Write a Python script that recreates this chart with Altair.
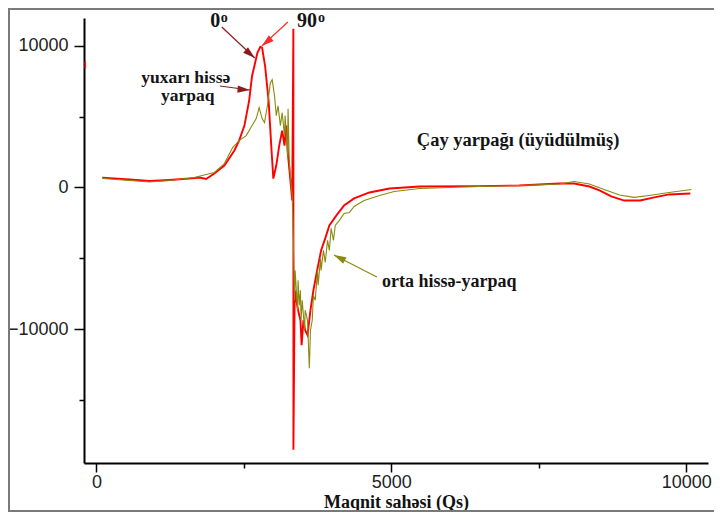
import altair as alt
import pandas as pd

# ---- data ----
red_x = [100, 560, 900, 1240, 1580, 1750, 1860, 2000, 2170, 2340,
         2420, 2510, 2590, 2640, 2680, 2730, 2780, 2810, 2860, 2920,
         2970, 3000, 3050, 3100, 3150, 3190, 3220, 3250, 3290, 3320,
         3340, 3341, 3362, 3390, 3420, 3460, 3480, 3510, 3540, 3580,
         3630, 3680, 3750, 3810, 3880, 3950, 4070, 4200, 4370, 4630,
         4970, 5480, 6490, 7170, 7510, 7850, 8100, 8360, 8530, 8730,
         8950, 9220, 9460, 9710, 10070]
red_y = [700, 560, 460, 530, 630, 700, 600, 990, 1550, 2610,
         3310, 4370, 6130, 7890, 8590, 9510, 9930, 9860, 8590, 6130,
         2610, 630, 1550, 2960, 4010, 2960, 4370, 2250, 490, -920,
         11200, -18500, -7250, -7960, -8660, -9370, -11130, -9370, -10070, -10420,
         -8660, -7250, -5700, -4440, -3590, -2680, -1970, -1270, -770, -350,
         -70, 70, 100, 140, 210, 280, 280, 70, -210, -630,
         -920, -920, -700, -490, -420]

olive_x = [100, 560, 900, 1240, 1660, 1860, 2000, 2170, 2310, 2420,
           2540, 2640, 2710, 2760, 2810, 2850, 2900, 2950, 2980, 3020,
           3050, 3080, 3120, 3150, 3190, 3200, 3240, 3250, 3270, 3290,
           3310, 3320, 3340, 3360, 3370, 3410, 3420, 3440, 3460, 3470,
           3490, 3530, 3540, 3580, 3610, 3630, 3660, 3680, 3710, 3750,
           3760, 3800, 3810, 3850, 3880, 3920, 3950, 3980, 4020, 4050,
           4120, 4200, 4290, 4370, 4540, 4800, 5050, 5480, 6490, 7170,
           7850, 8100, 8360, 8610, 8870, 9120, 9370, 9710, 10090]
olive_y = [630, 490, 390, 490, 700, 920, 1060, 1690, 2820, 3310,
           3660, 4370, 4860, 5630, 4860, 4580, 5770, 7390, 7610, 6480,
           5070, 5770, 4370, 5280, 3660, 5070, 2250, 5560, 1900, 850,
           -210, -560, -3730, -7960, -5850, -8660, -6550, -8310, -7250, -9370,
           -7960, -10070, -8660, -9370, -12750, -10070, -9370, -7610, -7960, -5850,
           -6900, -5000, -5850, -4440, -5280, -3730, -4440, -2890, -3730, -2680,
           -2320, -1830, -1760, -1340, -920, -560, -280, -70, 70, 140,
           250, 420, 250, -140, -530, -700, -560, -350, -140]

y_major = [-10000, 0, 10000]
y_minor = [-15000, -5000, 5000]
x_major = [0, 5000, 10000]
x_minor = [2500, 7500]

ann_text = ["0", "o", "90", "o", "yuxarı hissə", "yarpaq",
            "Çay yarpağı (üyüdülmüş)", "orta hissə-yarpaq"]
ann_x = [2016, 2170, 3569, 3815, 1515, 1549, 7150, 5982]
ann_y = [11715, 11930, 11715, 11930, 7730, 6450, 3350, -6669]
ann_fs = [20, 14, 20, 14, 17.5, 17.5, 18.5, 18]

arrow_x = [2126, 3247, 2093, 4756]
arrow_y = [11327, 11680, 7163, -6316]
arrow_x2 = [2686, 2805, 2601, 4027]
arrow_y2 = [9139, 9986, 6881, -4764]
arrow_angle = [131, 230, 94, 297]
arrow_color = ["#8b1c1c", "#ff2a2a", "#8b1c1c", "#8a8a10"]

# ---- tables ----
red_df = pd.DataFrame({"x": red_x, "y": red_y})
olive_df = pd.DataFrame({"x": olive_x, "y": olive_y})
ann_df = pd.DataFrame({"t": ann_text, "x": ann_x, "y": ann_y, "fs": ann_fs})
arr_df = pd.DataFrame({"x": arrow_x, "y": arrow_y, "x2": arrow_x2, "y2": arrow_y2,
                       "a": arrow_angle, "c": arrow_color})
stub_df = pd.DataFrame({"x": [-190], "y": [8400], "y2": [8900]})

xs = alt.Scale(domain=[-210, 10370], nice=False, zero=False)
ys = alt.Scale(domain=[-19440, 11960], nice=False, zero=False)

RED = "#ff0000"
OLIVE = "#8a8a10"
SERIF = "Liberation Serif"

red = alt.Chart(red_df).mark_line(color=RED, strokeWidth=1.9).encode(
    x=alt.X("x:Q", scale=xs, axis=alt.Axis(
        values=x_major, orient="bottom", tickSize=9, labelPadding=1, format="d",
        title="Maqnit sahəsi (Qs)", titleFont=SERIF, titleFontSize=18,
        titleFontWeight="bold", titleColor="#111", titlePadding=2)),
    y=alt.Y("y:Q", scale=ys, axis=alt.Axis(
        values=y_major, orient="left", tickSize=10, labelPadding=6, format="d", title=None)),
    order="index:Q",
).transform_window(index="row_number()")

minor = alt.Chart(red_df).mark_line(opacity=0).encode(
    x=alt.X("x:Q", scale=xs, axis=alt.Axis(
        values=x_minor, orient="bottom", tickSize=5, labels=False, domain=False, title=None)),
    y=alt.Y("y:Q", scale=ys, axis=alt.Axis(
        values=y_minor, orient="left", tickSize=5, labels=False, domain=False, title=None)),
)

olive = alt.Chart(olive_df).mark_line(color=OLIVE, strokeWidth=1.1).encode(
    x=alt.X("x:Q", scale=xs, axis=None),
    y=alt.Y("y:Q", scale=ys, axis=None),
    order="index:Q",
).transform_window(index="row_number()")

stub = alt.Chart(stub_df).mark_rule(color=RED, strokeWidth=2, opacity=0.7).encode(
    x=alt.X("x:Q", scale=xs, axis=None),
    y=alt.Y("y:Q", scale=ys, axis=None),
    y2="y2:Q",
)

arrow_lines = alt.Chart(arr_df).mark_rule(strokeWidth=1.2).encode(
    x=alt.X("x:Q", scale=xs, axis=None),
    y=alt.Y("y:Q", scale=ys, axis=None),
    x2="x2:Q", y2="y2:Q",
    color=alt.Color("c:N", scale=None),
)

arrow_heads = alt.Chart(arr_df).mark_point(
    shape="M0,0L0.6,2L-0.6,2Z", filled=True, size=150, opacity=1, strokeWidth=0
).encode(
    x=alt.X("x2:Q", scale=xs, axis=None),
    y=alt.Y("y2:Q", scale=ys, axis=None),
    angle=alt.Angle("a:Q", scale=None),
    color=alt.Color("c:N", scale=None),
)

texts = alt.Chart(ann_df).mark_text(
    font=SERIF, fontWeight="bold", color="#141414", align="center", baseline="middle"
).encode(
    x=alt.X("x:Q", scale=xs, axis=None),
    y=alt.Y("y:Q", scale=ys, axis=None),
    text="t:N",
    size=alt.Size("fs:Q", scale=None),
)

frame_top = alt.Chart(red_df).mark_rule(color="#7a7a7a", strokeWidth=1.5).encode(
    x=alt.value(-76), x2=alt.value(640), y=alt.value(-9.3))
frame_left = alt.Chart(red_df).mark_rule(color="#7a7a7a", strokeWidth=1.5).encode(
    x=alt.value(-75.3), y=alt.value(-10), y2=alt.value(494))
frame_bottom = alt.Chart(red_df).mark_rule(color="#7a7a7a", strokeWidth=1.5).encode(
    x=alt.value(-76), x2=alt.value(640), y=alt.value(493))

chart = alt.layer(
    frame_top, frame_left, frame_bottom,
    red, minor, olive, stub, arrow_lines, arrow_heads, texts
).resolve_axis(x="independent", y="independent").properties(
    width=624, height=445,
    background="white",
    autosize=alt.AutoSizeParams(type="none"),
    padding={"left": 76, "top": 10, "right": 6, "bottom": 50},
).configure_view(stroke=None).configure_axis(
    grid=False, domainColor="#000", domainWidth=2, tickColor="#000", tickWidth=1.5,
    labelColor="#222", labelFont="Liberation Sans", labelFontSize=18,
)

chart.save("out.html", embed_options={"renderer": "svg", "actions": False})
